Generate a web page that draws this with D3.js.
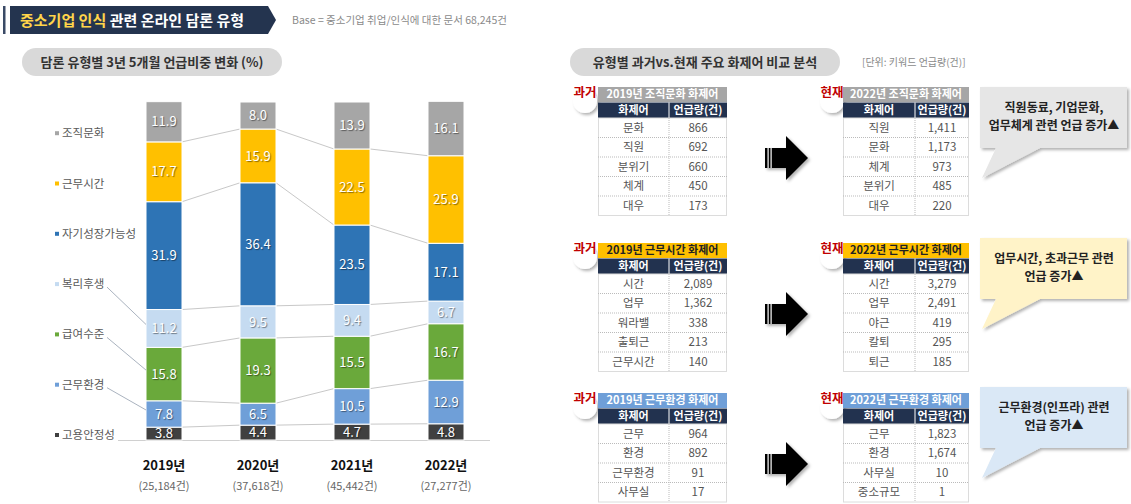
<!DOCTYPE html>
<html>
<head>
<meta charset="utf-8">
<script src="https://cdn.jsdelivr.net/npm/d3@7"></script>
<style>
  body { margin: 0; background: #fff; }
  svg { display: block; font-family: "Noto Sans CJK KR", "Noto Sans", sans-serif; }
</style>
</head>
<body>
<script>
// ---- chart data ----
const years = ["2019년", "2020년", "2021년", "2022년"];
const yearCounts = ["(25,184건)", "(37,618건)", "(45,442건)", "(27,277건)"];
const categories = ["고용안정성", "근무환경", "급여수준", "복리후생", "자기성장가능성", "근무시간", "조직문화"];
const seriesColors = ["#404040", "#6f9fd8", "#6aa93b", "#c5dbf1", "#2e74b5", "#ffc000", "#a6a6a6"];
const jobSecurity = [3.8, 4.4, 4.7, 4.8];
const workEnv = [7.8, 6.5, 10.5, 12.9];
const salary = [15.8, 19.3, 15.5, 16.7];
const welfare = [11.2, 9.5, 9.4, 6.7];
const growth = [31.9, 36.4, 23.5, 17.1];
const workHours = [17.7, 15.9, 22.5, 25.9];
const orgCulture = [11.9, 8.0, 13.9, 16.1];
const seriesList = [jobSecurity, workEnv, salary, welfare, growth, workHours, orgCulture];
const leaderCats = ["복리후생", "급여수준", "근무환경"];

// ---- keyword tables ----
const culture2019Words = ["문화", "직원", "분위기", "체계", "대우"];
const culture2019Counts = [866, 692, 660, 450, 173];
const culture2022Words = ["직원", "문화", "체계", "분위기", "대우"];
const culture2022Counts = [1411, 1173, 973, 485, 220];
const hours2019Words = ["시간", "업무", "워라밸", "출퇴근", "근무시간"];
const hours2019Counts = [2089, 1362, 338, 213, 140];
const hours2022Words = ["시간", "업무", "야근", "칼퇴", "퇴근"];
const hours2022Counts = [3279, 2491, 419, 295, 185];
const env2019Words = ["근무", "환경", "근무환경", "사무실"];
const env2019Counts = [964, 892, 91, 17];
const env2022Words = ["근무", "환경", "사무실", "중소규모"];
const env2022Counts = [1823, 1674, 10, 1];

const W = 1131, H = 504;
const svg = d3.select("body").append("svg").attr("width", W).attr("height", H);

const defs = svg.append("defs");
const sh = defs.append("filter").attr("id", "shadow").attr("x", "-20%").attr("y", "-20%").attr("width", "150%").attr("height", "160%");
sh.append("feDropShadow").attr("dx", 2).attr("dy", 2).attr("stdDeviation", 1.5).attr("flood-color", "#000").attr("flood-opacity", 0.3);

// ---- header banner ----
svg.append("rect").attr("x", 3).attr("y", 6).attr("width", 2.5).attr("height", 28).attr("fill", "#3a4a66");
svg.append("path")
  .attr("d", "M10,6 H268 L276,20 L268,34 H10 Z")
  .attr("fill", "#24344f");
const ttl = svg.append("text").attr("x", 20).attr("y", 25.5)
  .attr("font-size", 15).attr("font-weight", "bold");
ttl.append("tspan").attr("fill", "#ffd54a").text("중소기업 인식 ");
ttl.append("tspan").attr("fill", "#fff").text("관련 온라인 담론 유형");
svg.append("text").attr("x", 292).attr("y", 24).attr("font-size", 10.5).attr("fill", "#8a8a8a")
  .text("Base = 중소기업 취업/인식에 대한 문서 68,245건");

// ---- pills ----
function pill(x, y, w, h, label) {
  svg.append("rect").attr("x", x).attr("y", y).attr("width", w).attr("height", h)
    .attr("rx", h / 2).attr("fill", "#d9d9d9");
  svg.append("text").attr("x", x + w / 2).attr("y", y + h / 2).attr("dy", "0.35em")
    .attr("text-anchor", "middle").attr("font-size", 13).attr("font-weight", "bold")
    .attr("fill", "#333").text(label);
}
pill(22, 48, 260, 28, "담론 유형별 3년 5개월 언급비중 변화 (%)");
pill(570, 48, 270, 28, "유형별 과거vs.현재 주요 화제어 비교 분석");
svg.append("text").attr("x", 862).attr("y", 66).attr("font-size", 10).attr("fill", "#8a8a8a")
  .text("[단위: 키워드 언급량(건)]");

// ---- stacked bar chart ----
const x = d3.scalePoint().domain(years).range([164, 446]);
const y = d3.scaleLinear().domain([0, 100]).range([440, 102]);
const bw = 36;

const rows = years.map((yr, i) => {
  const r = { year: yr };
  categories.forEach((c, j) => { r[c] = seriesList[j][i]; });
  return r;
});
const stacked = d3.stack().keys(categories)(rows);

const chart = svg.append("g");

// connector lines between bars
stacked.slice(0, -1).forEach(layer => {
  for (let i = 0; i < years.length - 1; i++) {
    chart.append("line")
      .attr("x1", x(years[i]) + bw / 2).attr("y1", y(layer[i][1]))
      .attr("x2", x(years[i + 1]) - bw / 2).attr("y2", y(layer[i + 1][1]))
      .attr("stroke", "#c8c8c8").attr("stroke-width", 1);
  }
});

chart.append("line").attr("x1", 118).attr("x2", 490).attr("y1", 440.5).attr("y2", 440.5)
  .attr("stroke", "#d0d0d0");

const layers = chart.selectAll(".layer").data(stacked).enter().append("g")
  .attr("fill", (d, i) => seriesColors[i]);

layers.selectAll("rect").data(d => d).enter().append("rect")
  .attr("x", d => x(d.data.year) - bw / 2)
  .attr("y", d => y(d[1]))
  .attr("width", bw)
  .attr("height", d => y(d[0]) - y(d[1]))
  .attr("stroke", "#fff").attr("stroke-width", 1);

layers.selectAll("text").data(d => d.map(v => ({ v, key: d.key }))).enter().append("text")
  .attr("x", d => x(d.v.data.year))
  .attr("y", d => (y(d.v[0]) + y(d.v[1])) / 2)
  .attr("dy", "0.36em")
  .attr("text-anchor", "middle")
  .attr("font-size", 13)
  .attr("fill", "#fff")
  .style("text-shadow", "1px 1px 1px rgba(0,0,0,0.45)")
  .text(d => d3.format(".1f")(d.v.data[d.key]));

// year labels
chart.selectAll(".yr").data(years).enter().append("text")
  .attr("x", d => x(d)).attr("y", 470).attr("text-anchor", "middle")
  .attr("font-size", 13).attr("font-weight", "bold").attr("fill", "#111").text(d => d);
chart.selectAll(".cnt").data(yearCounts).enter().append("text")
  .attr("x", (d, i) => x(years[i])).attr("y", 490).attr("text-anchor", "middle")
  .attr("font-size", 11).attr("fill", "#666").text(d => d);

// legend
const legY = i => 435 - i * 50.3;
categories.forEach((c, i) => {
  svg.append("rect").attr("x", 55).attr("y", legY(i) - 2).attr("width", 4).attr("height", 4)
    .attr("fill", seriesColors[i]);
  svg.append("text").attr("x", 62).attr("y", legY(i)).attr("dy", "0.35em")
    .attr("font-size", 11.5).attr("fill", "#595959").text(c);
  if (leaderCats.includes(c)) {
    const seg = stacked[i][0];
    svg.append("line")
      .attr("x1", 107).attr("y1", legY(i) + 3)
      .attr("x2", x(years[0]) - bw / 2).attr("y2", (y(seg[0]) + y(seg[1])) / 2 - 4)
      .attr("stroke", "#aab3bf").attr("stroke-width", 1);
  }
});

// ---- keyword tables ----
const fmt = d3.format(",");
function drawTable(x0, top, widths, title, titleFill, titleColor, words, counts) {
  const g = svg.append("g");
  const tw = widths[0] + widths[1];
  const rowH = 19.5;
  const bodyTop = top + 31;
  g.append("rect").attr("x", x0).attr("y", top).attr("width", tw).attr("height", 15).attr("fill", titleFill);
  g.append("text").attr("x", x0 + tw / 2).attr("y", top + 7.5).attr("dy", "0.36em")
    .attr("text-anchor", "middle").attr("font-size", 11).attr("font-weight", "bold")
    .attr("fill", titleColor).text(title);
  g.append("rect").attr("x", x0).attr("y", top + 15.5).attr("width", tw).attr("height", 15.5).attr("fill", "#22324f");
  [["화제어", x0 + widths[0] / 2], ["언급량(건)", x0 + widths[0] + widths[1] / 2]].forEach(([t, cx]) => {
    g.append("text").attr("x", cx).attr("y", top + 23.5).attr("dy", "0.36em")
      .attr("text-anchor", "middle").attr("font-size", 11).attr("font-weight", "bold")
      .attr("fill", "#fff").text(t);
  });
  g.append("line").attr("x1", x0 + widths[0]).attr("x2", x0 + widths[0])
    .attr("y1", top + 15.5).attr("y2", top + 31).attr("stroke", "#fff");
  g.append("rect").attr("x", x0 + 0.5).attr("y", bodyTop).attr("width", tw - 1).attr("height", rowH * words.length)
    .attr("fill", "#fff").attr("stroke", "#dcdcdc");
  words.forEach((w, i) => {
    const cy = bodyTop + rowH * i + rowH / 2;
    if (i > 0) {
      g.append("line").attr("x1", x0).attr("x2", x0 + tw)
        .attr("y1", bodyTop + rowH * i).attr("y2", bodyTop + rowH * i)
        .attr("stroke", "#bbb").attr("stroke-dasharray", "1,1");
    }
    g.append("text").attr("x", x0 + widths[0] / 2).attr("y", cy).attr("dy", "0.36em")
      .attr("text-anchor", "middle").attr("font-size", 11.5).attr("fill", "#555").text(w);
    g.append("text").attr("x", x0 + widths[0] + widths[1] / 2).attr("y", cy).attr("dy", "0.36em")
      .attr("text-anchor", "middle").attr("font-size", 11.5).attr("fill", "#555").text(fmt(counts[i]));
  });
  g.append("line").attr("x1", x0 + widths[0]).attr("x2", x0 + widths[0])
    .attr("y1", bodyTop).attr("y2", bodyTop + rowH * words.length)
    .attr("stroke", "#bbb").attr("stroke-dasharray", "1,1");
}

function badge(cx, top, label) {
  svg.append("circle").attr("cx", cx).attr("cy", top + 14).attr("r", 12)
    .attr("fill", "#fff").attr("filter", "url(#shadow)");
  svg.append("text").attr("x", cx).attr("y", top + 5).attr("dy", "0.36em")
    .attr("text-anchor", "middle").attr("font-size", 12.5).attr("font-weight", "bold")
    .attr("fill", "#c00000").text(label);
}

function arrow(cy) {
  const g = svg.append("g");
  g.append("path")
    .attr("d", `M765,${cy - 10} H786 V${cy - 22} L808,${cy} L786,${cy + 22} V${cy + 10} H765 Z`)
    .attr("fill", "#000").attr("filter", "url(#shadow)");
  [767.5, 770.5].forEach(sx => {
    g.append("rect").attr("x", sx).attr("y", cy - 10).attr("width", 1.2).attr("height", 20).attr("fill", "#fff");
  });
}

function callout(top, fill, lines) {
  const bot = top + 61;
  svg.append("path")
    .attr("d", `M980,${top} H1127 V${bot} H1040 L982,${bot + 30} L996,${bot} H980 Z`)
    .attr("fill", fill).attr("filter", "url(#shadow)");
  lines.forEach((t, i) => {
    svg.append("text").attr("x", 1054).attr("y", top + 21 + i * 18).attr("dy", "0.36em")
      .attr("text-anchor", "middle").attr("font-size", 12).attr("font-weight", "bold")
      .attr("fill", "#222").text(t);
  });
}

const sections = [
  { top: 87, fill: "#a6a6a6", color: "#fff", past: "2019년 조직문화 화제어", now: "2022년 조직문화 화제어",
    pw: culture2019Words, pc: culture2019Counts, nw: culture2022Words, nc: culture2022Counts,
    box: 87, boxFill: "#e6e6e6", text: ["직원동료, 기업문화,", "업무체계 관련 언급 증가▲"] },
  { top: 243, fill: "#ffc000", color: "#222", past: "2019년 근무시간 화제어", now: "2022년 근무시간 화제어",
    pw: hours2019Words, pc: hours2019Counts, nw: hours2022Words, nc: hours2022Counts,
    box: 238, boxFill: "#fff3c8", text: ["업무시간, 초과근무 관련", "언급 증가▲"] },
  { top: 393, fill: "#6f9fd8", color: "#fff", past: "2019년 근무환경 화제어", now: "2022년 근무환경 화제어",
    pw: env2019Words, pc: env2019Counts, nw: env2022Words, nc: env2022Counts,
    box: 387, boxFill: "#dae8f6", text: ["근무환경(인프라) 관련", "언급 증가▲"] }
];

sections.forEach(s => {
  badge(585, s.top, "과거");
  drawTable(598, s.top, [71, 58], s.past, s.fill, s.color, s.pw, s.pc);
  badge(832, s.top, "현재");
  drawTable(843, s.top, [72, 54], s.now, s.fill, s.color, s.nw, s.nc);
  arrow(s.top + 71);
  callout(s.box, s.boxFill, s.text);
});
</script>
</body>
</html>
